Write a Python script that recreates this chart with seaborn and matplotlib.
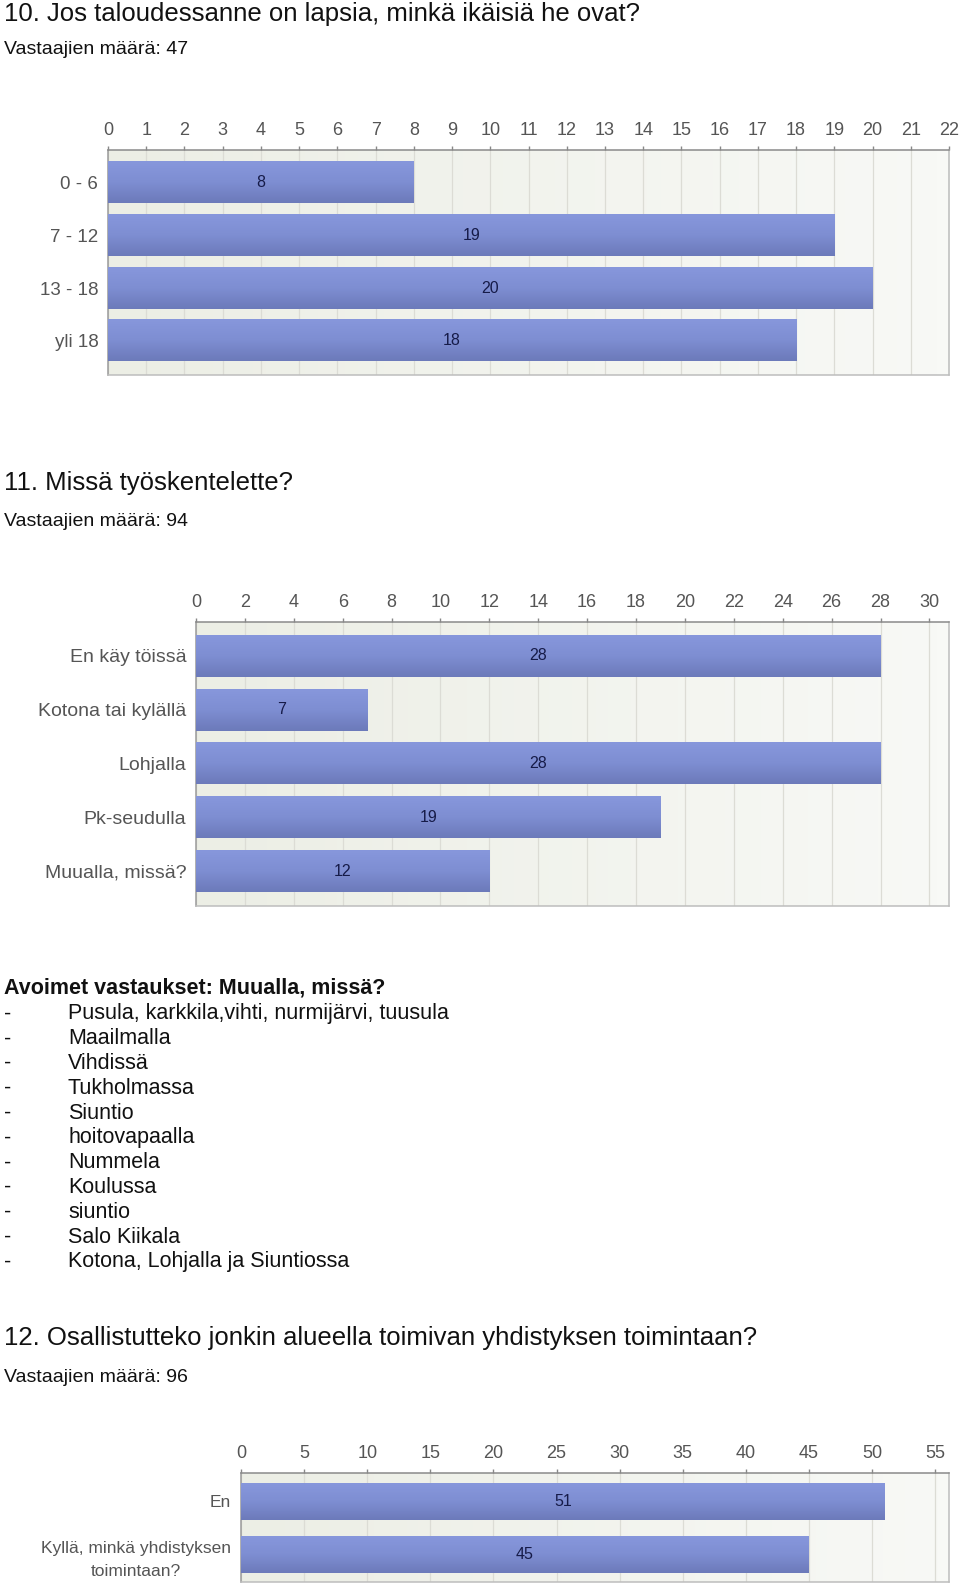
import matplotlib
matplotlib.use("Agg")
import matplotlib.pyplot as plt
import seaborn as sns
import numpy as np
import pandas as pd
from matplotlib.colors import LinearSegmentedColormap

# ---------------- data ----------------
age_groups = ["0 - 6", "7 - 12", "13 - 18", "yli 18"]
age_counts = [8, 19, 20, 18]

work_places = ["En käy töissä", "Kotona tai kylällä", "Lohjalla", "Pk-seudulla", "Muualla, missä?"]
work_counts = [28, 7, 28, 19, 12]

assoc_options = ["En", "Kyllä, minkä yhdistyksen\ntoimintaan?"]
assoc_counts = [51, 45]

open_answers = [
    "Pusula, karkkila,vihti, nurmijärvi, tuusula",
    "Maailmalla",
    "Vihdissä",
    "Tukholmassa",
    "Siuntio",
    "hoitovapaalla",
    "Nummela",
    "Koulussa",
    "siuntio",
    "Salo Kiikala",
    "Kotona, Lohjalla ja Siuntiossa",
]

titles = [
    "10. Jos taloudessanne on lapsia, minkä ikäisiä he ovat?",
    "11. Missä työskentelette?",
    "12. Osallistutteko jonkin alueella toimivan yhdistyksen toimintaan?",
]
respondents = [47, 94, 96]

# ---------------- style ----------------
sns.set_theme(style="white")
plt.rcParams["font.family"] = ["Liberation Sans", "DejaVu Sans"]

W, H = 960, 1589
fig = plt.figure(figsize=(W / 100, H / 100), dpi=100)
fig.patch.set_facecolor("white")

BAR_LIGHT = "#8797dc"
BAR_DARK = "#6c7aba"
bar_cmap = LinearSegmentedColormap.from_list("bar", [BAR_LIGHT, "#7e8ed2", BAR_DARK])
bg_cmap = LinearSegmentedColormap.from_list("bg", ["#eceee5", "#f8f9f6"])
grad_bar = np.linspace(0, 1, 64).reshape(-1, 1)
grad_bg = np.linspace(0, 1, 64).reshape(1, -1)


def px_axes(l, t, r, b):
    return fig.add_axes([l / W, 1 - b / H, (r - l) / W, (b - t) / H])


def ftext(x, y, s, **kw):
    fig.text(x / W, 1 - y / H, s, **kw)


def bar_chart(ax, cats, vals, xmax, ticks, width, ylim, ysize=13.5):
    df = pd.DataFrame({"cat": cats, "n": vals})
    sns.barplot(data=df, x="n", y="cat", orient="h", ax=ax, color=BAR_DARK,
                width=width, saturation=1, edgecolor="none", zorder=2)
    for p in list(ax.patches):
        x0, y0, w, h = p.get_x(), p.get_y(), p.get_width(), p.get_height()
        ax.imshow(grad_bar, extent=(x0, x0 + w, y0 + h, y0), aspect="auto",
                  cmap=bar_cmap, zorder=3, interpolation="bilinear")
    ax.imshow(grad_bg, extent=(0, 1, 0, 1), transform=ax.transAxes,
              aspect="auto", cmap=bg_cmap, zorder=0)
    ax.bar_label(ax.containers[0], label_type="center", fontsize=11.5,
                 color="#161b48", zorder=5)
    ax.set_xlim(0, xmax)
    ax.set_ylim(*ylim)
    ax.set_xticks(ticks)
    ax.xaxis.tick_top()
    ax.tick_params(axis="x", top=True, bottom=False, labeltop=True,
                   labelbottom=False, length=3, width=1, color="#888888",
                   labelcolor="#555555", labelsize=13, pad=5)
    ax.tick_params(axis="y", left=False, length=0, pad=7,
                   labelcolor="#555555", labelsize=ysize)
    for lbl in ax.get_yticklabels():
        lbl.set_multialignment("center")
        lbl.set_linespacing(1.7)
    ax.grid(axis="x", color="#dcdcd5", lw=0.9, zorder=1)
    ax.grid(axis="y", visible=False)
    ax.set_axisbelow(True)
    ax.set_xlabel("")
    ax.set_ylabel("")
    for side, col in (("top", "#8a8a8a"), ("left", "#9a9a9a"),
                      ("right", "#bdbdbd"), ("bottom", "#bdbdbd")):
        ax.spines[side].set_visible(True)
        ax.spines[side].set_color(col)
        ax.spines[side].set_linewidth(1.1)


TXT = "#111111"

# ---------------- section 10 ----------------
ftext(4, 14, titles[0], fontsize=18.5, color=TXT, va="center")
ftext(4, 50, f"Vastaajien määrä: {respondents[0]}", fontsize=14, color=TXT, va="center")
ax1 = px_axes(108, 150, 949, 375)
bar_chart(ax1, age_groups, age_counts, 22, np.arange(0, 23, 1), 0.78, (3.65, -0.62))

# ---------------- section 11 ----------------
ftext(4, 483, titles[1], fontsize=18.5, color=TXT, va="center")
ftext(4, 522, f"Vastaajien määrä: {respondents[1]}", fontsize=14, color=TXT, va="center")
ax2 = px_axes(196, 622, 949, 906)
bar_chart(ax2, work_places, work_counts, 30.8, np.arange(0, 31, 2), 0.78, (4.65, -0.63),
          ysize=14)

ftext(4, 988, "Avoimet vastaukset: Muualla, missä?", fontsize=15.5, weight="bold",
      color=TXT, va="center")
for i, ans in enumerate(open_answers):
    y = 1014 + 24.8 * i
    ftext(4, y, "-", fontsize=15.5, color=TXT, va="center")
    ftext(68, y, ans, fontsize=15.5, color=TXT, va="center")

# ---------------- section 12 ----------------
ftext(4, 1338, titles[2], fontsize=18.5, color=TXT, va="center")
ftext(4, 1378, f"Vastaajien määrä: {respondents[2]}", fontsize=14, color=TXT, va="center")
ax3 = px_axes(241, 1473, 949, 1582)
bar_chart(ax3, assoc_options, assoc_counts, 56.1, np.arange(0, 56, 5), 0.70, (1.53, -0.54),
          ysize=12.5)

fig.savefig("out.png", dpi=100, facecolor="white")
